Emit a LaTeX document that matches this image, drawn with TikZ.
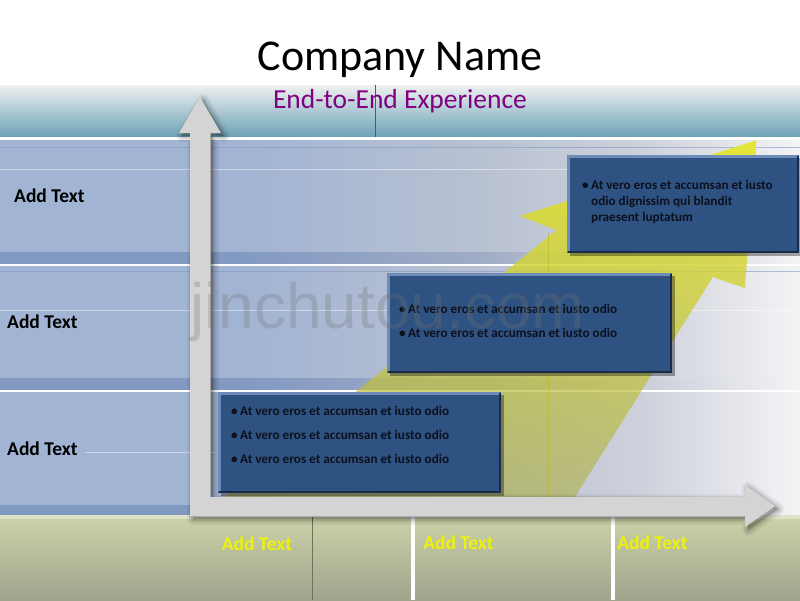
\documentclass[tikz,border=0pt]{standalone}
\usepackage{fontspec}
\setmainfont{Carlito}
\newfontfamily\wmfont{Liberation Sans}
\usetikzlibrary{fadings}
\definecolor{rowblue}{RGB}{162,180,211}
\definecolor{rowmid}{RGB}{184,193,210}
\definecolor{rowlt}{RGB}{205,209,219}
\definecolor{rowend}{RGB}{244,244,246}
\definecolor{stripeblue}{RGB}{130,153,194}
\definecolor{stripemid}{RGB}{160,172,196}
\definecolor{stripelt}{RGB}{200,205,216}
\definecolor{hdtop}{RGB}{238,240,241}
\definecolor{hdbot}{RGB}{106,161,181}
\definecolor{bandtop}{RGB}{204,212,170}
\definecolor{bandbot}{RGB}{160,163,140}
\definecolor{boxfill}{RGB}{46,82,130}
\definecolor{boxlt}{RGB}{110,140,185}
\definecolor{boxdk}{RGB}{24,44,74}
\definecolor{yeltop}{RGB}{230,230,34}
\definecolor{yelbot}{RGB}{173,175,73}
\definecolor{arrgray}{RGB}{212,212,212}
\definecolor{arrdk}{RGB}{170,170,170}
\definecolor{textdark}{RGB}{12,16,28}
\definecolor{subpurple}{RGB}{128,0,128}
\definecolor{labyellow}{RGB}{238,242,10}
\definecolor{olivedk}{RGB}{110,115,90}
\pgfdeclarehorizontalshading{rowsh}{100bp}{color(0bp)=(rowblue); color(40bp)=(rowblue); color(55bp)=(rowmid); color(65bp)=(rowlt); color(75bp)=(rowend); color(100bp)=(rowend)}
\pgfdeclarehorizontalshading{stripesh}{100bp}{color(0bp)=(stripeblue); color(40bp)=(stripeblue); color(55bp)=(stripemid); color(65bp)=(stripelt); color(75bp)=(rowend); color(100bp)=(rowend)}
\tikzfading[name=yfade, top color=transparent!10, bottom color=transparent!40]
\tikzset{
  tbox/.style={fill=boxfill, draw=none, minimum width=#1, inner sep=0, anchor=north west},
  btext/.style={anchor=base west, inner sep=0, text=textdark, font=\bfseries\fontsize{13.2}{16}\selectfont},
  lab/.style={anchor=west, inner sep=0, text=black, font=\bfseries\fontsize{19.5}{23}\selectfont},
  blab/.style={inner sep=0, text=labyellow, font=\bfseries\fontsize{19.5}{23}\selectfont},
}
\newcommand{\bul}{\makebox[9pt][l]{\textbullet}}
\def\arrowpath{(190,516) -- (190,133) -- (179,133) -- (200,97) -- (221,133) -- (210,133) -- (210,497) -- (745,497) -- (745,485) -- (775,506) -- (745,527) -- (745,516) -- cycle}
\begin{document}
\begin{tikzpicture}[x=1pt,y=-1pt]
\useasboundingbox (0,0) rectangle (800,600);
\fill[white] (0,0) rectangle (800,600);
% header band
\shade[top color=hdtop, bottom color=hdbot] (0,85) rectangle (800,138);
\draw[hdbot!60!black, line width=0.8] (375,85) -- (375,137);
\fill[white] (0,137) rectangle (800,140);
% rows
\shade[shading=rowsh] (0,140) rectangle (800,252);
\shade[shading=stripesh] (0,252) rectangle (800,264);
\fill[white] (0,264) rectangle (800,266.5);
\shade[shading=rowsh] (0,266.5) rectangle (800,378);
\shade[shading=stripesh] (0,378) rectangle (800,390);
\fill[white] (0,390) rectangle (800,392.5);
\shade[shading=rowsh] (0,392.5) rectangle (800,505);
\shade[shading=stripesh] (0,505) rectangle (800,515);
% faint row lines
\draw[stripeblue, opacity=.6] (0,147) -- (800,147);
\draw[white, opacity=.45] (0,169) -- (800,169);
\draw[stripeblue, opacity=.6] (0,271) -- (800,271);
\draw[white, opacity=.45] (0,310) -- (800,310);
\draw[white, opacity=.45] (85,452) -- (215,452);
% bottom band
\shade[top color=bandtop, bottom color=bandbot] (0,515) rectangle (800,600);
\fill[white, opacity=.35] (0,515) rectangle (800,519);
\draw[olivedk, line width=0.8] (312,517) -- (312,600);
\draw[white, line width=4] (413,515) -- (413,600);
\draw[white, line width=4] (613,515) -- (613,600);
% yellow arrow
\shade[top color=yeltop, bottom color=yelbot, path fading=yfade] (757,140) -- (745,288) -- (713,277) -- (570,505) -- (215,505) -- (557,230) -- (520,216) -- cycle;
\draw[yeltop!80!black, opacity=.55, line width=1] (548,232) -- (548,500);
% gray axis arrows with shadow
\foreach \w/\o in {12/0.05, 8/0.07, 4/0.10} {
  \filldraw[black, opacity=\o, line width=\w, line join=round, shift={(3,3)}] \arrowpath;
}
\fill[arrgray] \arrowpath;
\draw[arrdk, line width=0.8] (210,133) -- (210,497);
\draw[arrdk, line width=0.8] (190,516) -- (745,516);
% boxes
\foreach \x/\y/\w/\h in {218/392/283/101, 387/273/285/100, 567/155/232/98} {
  \fill[black, opacity=.35] (\x+3,\y+3) rectangle (\x+\w+3,\y+\h+3);
}
\node[tbox=283, minimum height=101] (b1) at (218,392) {};
\node[tbox=285, minimum height=100] (b2) at (387,273) {};
\node[tbox=232, minimum height=98] (b3) at (567,155) {};
\foreach \b in {b1,b2,b3} {
  \draw[boxlt, line width=2.5] ([shift={(1.25,-1.25)}]\b.south west) -- ([shift={(1.25,1.25)}]\b.north west) -- ([shift={(-1.25,1.25)}]\b.north east);
  \draw[boxdk, line width=2.5] ([shift={(-1.25,1.25)}]\b.north east) -- ([shift={(-1.25,-1.25)}]\b.south east) -- ([shift={(1.25,-1.25)}]\b.south west);
}
% box texts
\node[btext] (t11) at (231,415) {\bul At vero eros et accumsan et iusto odio};
\node[btext] (t12) at (231,439) {\bul At vero eros et accumsan et iusto odio};
\node[btext] (t13) at (231,463) {\bul At vero eros et accumsan et iusto odio};
\node[btext] (t21) at (399,313) {\bul At vero eros et accumsan et iusto odio};
\node[btext] (t22) at (399,337) {\bul At vero eros et accumsan et iusto odio};
\node[btext] (t31) at (582,189) {\bul At vero eros et accumsan et iusto};
\node[btext] (t32) at (591,205) {odio dignissim qui blandit};
\node[btext] (t33) at (591,221) {praesent luptatum};
% left labels
\node[lab] (l1) at (14,196) {Add Text};
\node[lab] (l2) at (7,322) {Add Text};
\node[lab] (l3) at (7,449) {Add Text};
% bottom labels
\node[blab] (x1) at (257,544) {Add Text};
\node[blab] (x2) at (458.5,543) {Add Text};
\node[blab] (x3) at (652.5,543) {Add Text};
% titles
\node[inner sep=0, font=\fontsize{44}{50}\selectfont] (title) at (400,60) {Company Name};
\node[inner sep=0, text=subpurple, font=\fontsize{27.5}{30}\selectfont] (sub) at (400,101) {End-to-End Experience};
% watermark
\node[anchor=base west, inner sep=0, text=black!55, opacity=.28, font=\wmfont\fontsize{64}{70}\selectfont] (wm) at (190,328) {jinchutou.com};
\end{tikzpicture}
\end{document}
